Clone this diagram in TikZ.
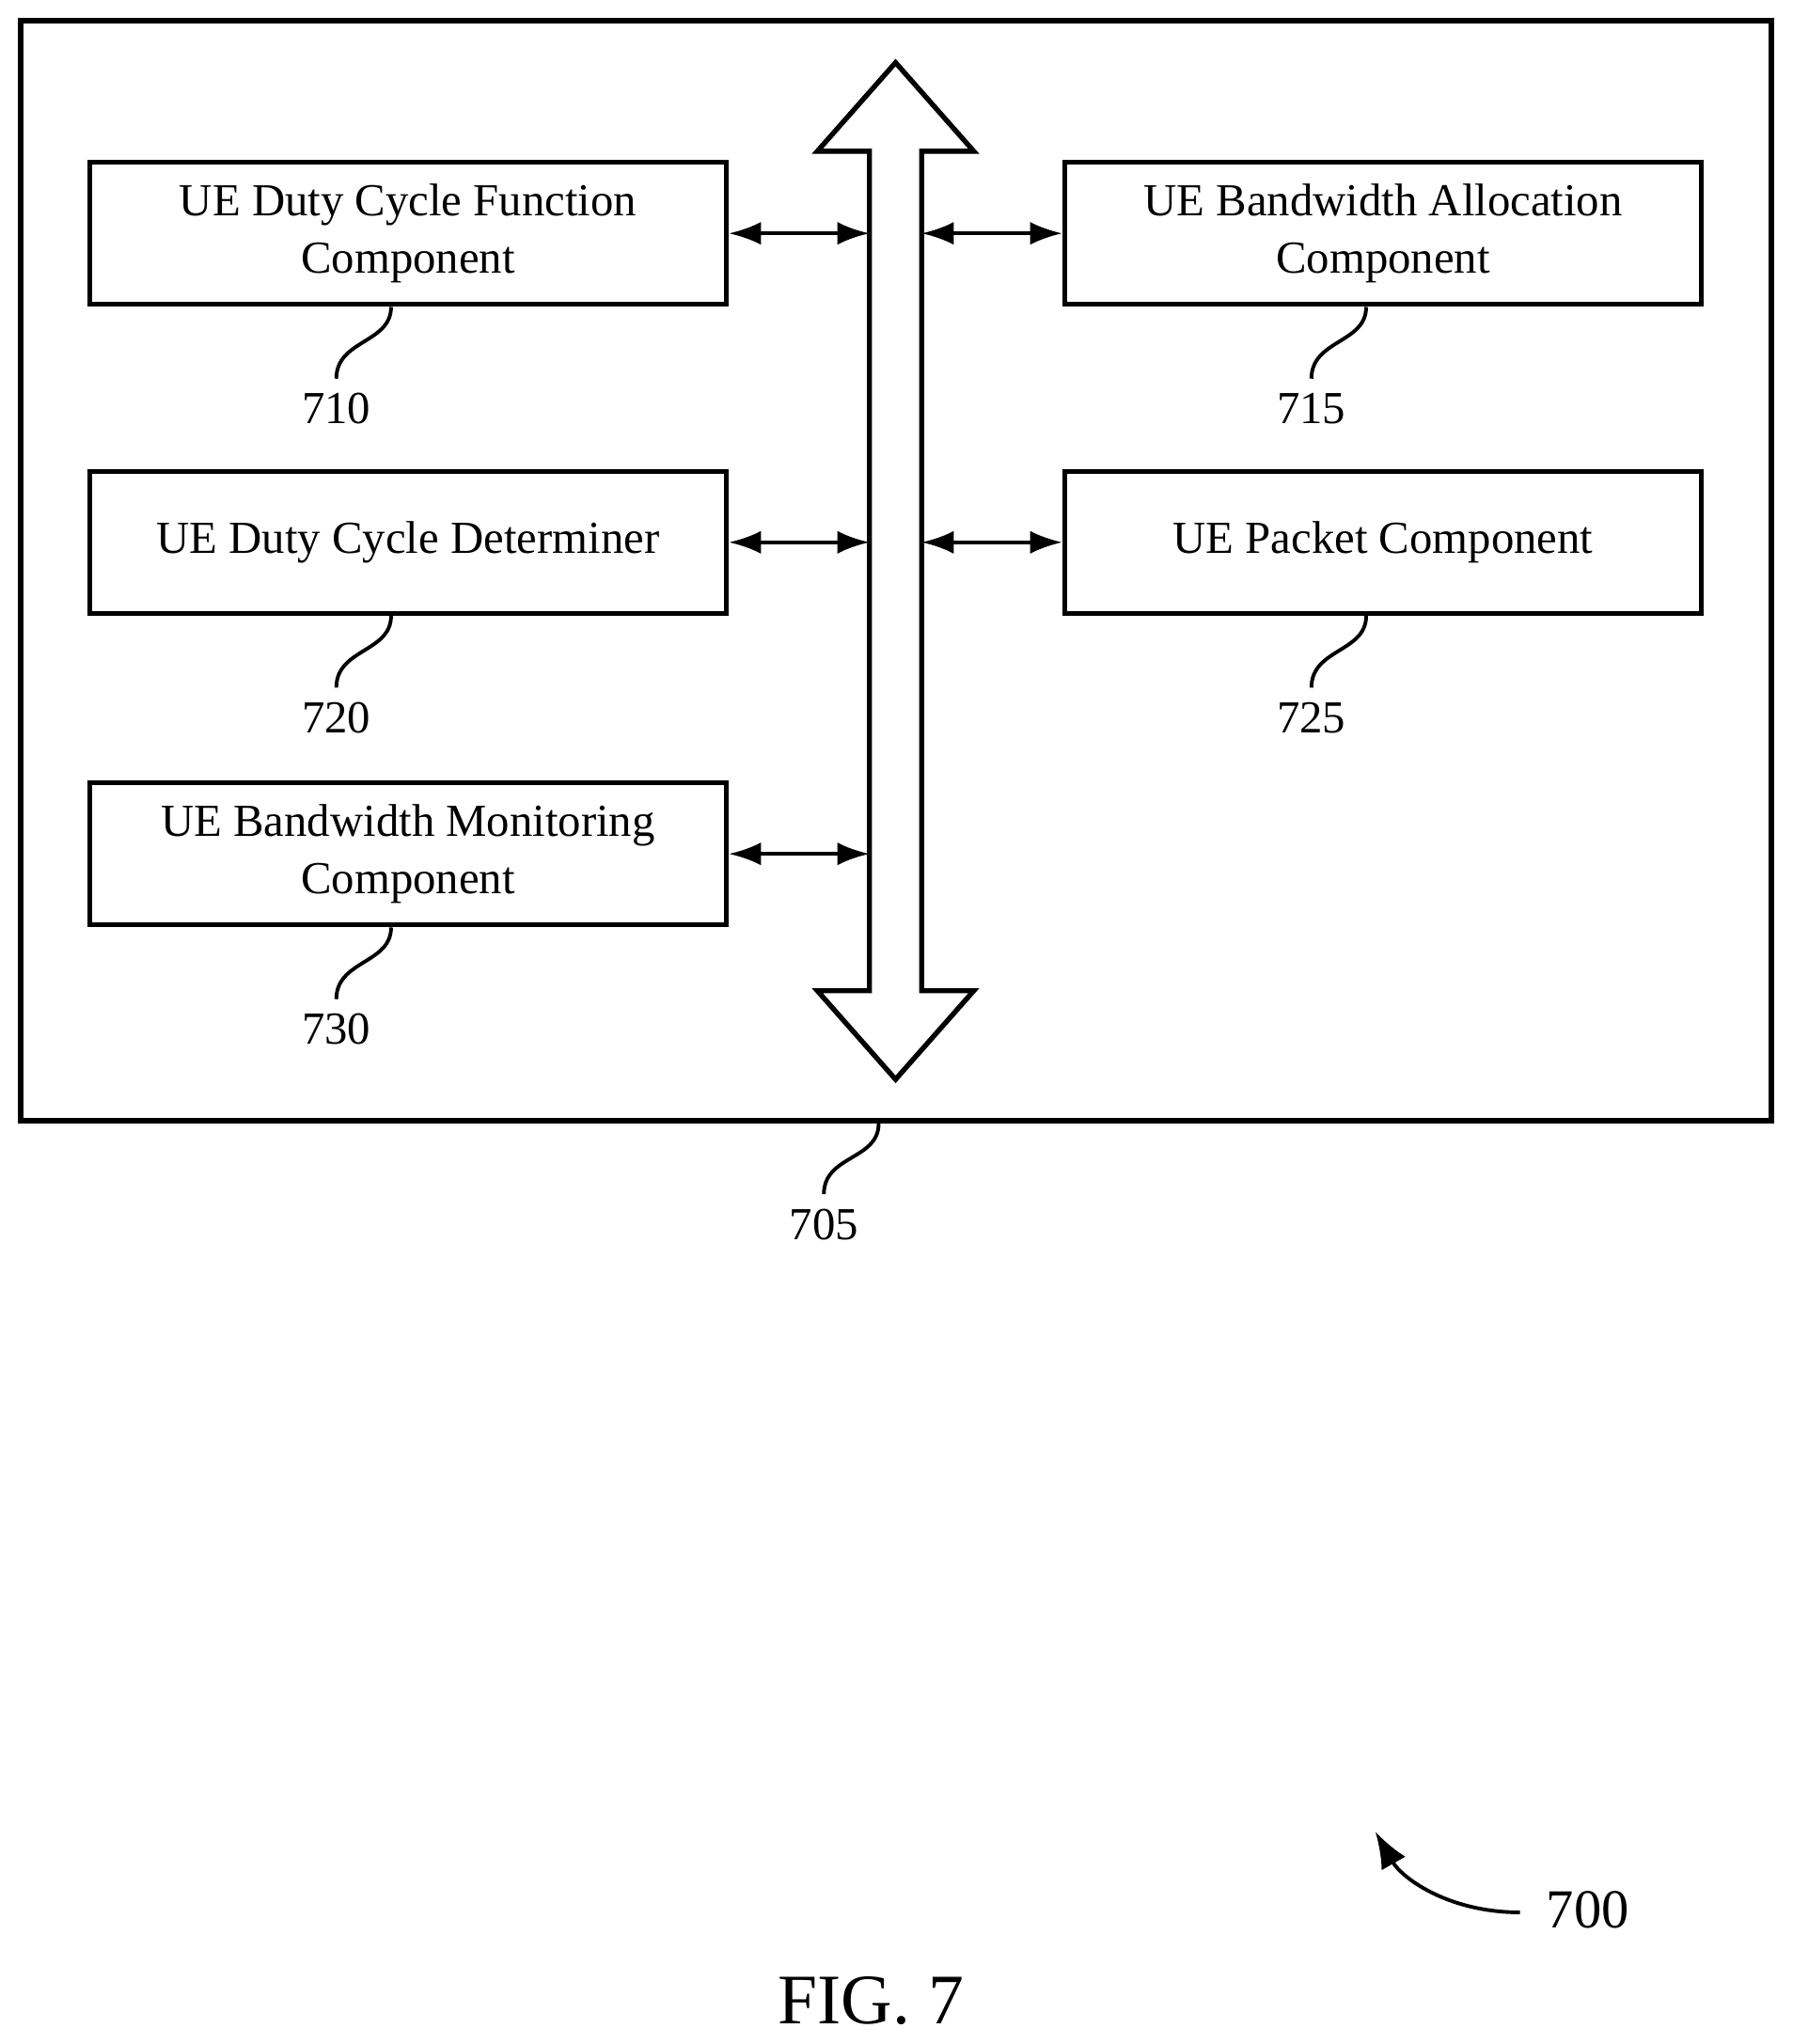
\documentclass[tikz,border=0pt]{standalone}
\usepackage{fontspec}
\setmainfont{Liberation Serif}
\usetikzlibrary{positioning, calc, arrows.meta}
\tikzset{
	comp/.style={draw, line width=1.1pt, rectangle, minimum width=4.88cm, minimum height=1.09cm, align=center, font=\fontsize{10}{12.5}\selectfont},
	link/.style={line width=0.8pt, {Latex[length=7pt,width=5pt]}-{Latex[length=7pt,width=5pt]}},
	lead/.style={line width=0.8pt},
	refnum/.style={inner sep=0pt, font=\fontsize{10}{12}\selectfont}
}
\begin{document}
\begin{tikzpicture}[x=0.01cm, y=-0.01cm]
		\useasboundingbox (0,0) rectangle (1375,1568);
		
		%Outer box and bus
		\draw[line width=1.2pt] (16,16) rectangle (1359,860);
		\coordinate (busL) at (667,0);
		\coordinate (busR) at (707,0);
		\draw[line width=1.1pt] (687,48) -- (747,116) -- (707,116) -- (707,760) -- (747,760) -- (687,828) 
		-- (627,760) -- (667,760) -- (667,116) -- (627,116) -- cycle;
		
		%Components on the left
		\node (dutyFunction) at (313,179) [comp]{UE Duty Cycle Function\\Component};
		\node (dutyDeterminer) at (313,416) [comp]{UE Duty Cycle Determiner};
		\node (bwMonitoring) at (313,655) [comp]{UE Bandwidth Monitoring\\Component};
		
		%Components on the right
		\node (bwAllocation) at (1061,179) [comp]{UE Bandwidth Allocation\\Component};
		\node (packetComp) at (1061,416) [comp]{UE Packet Component};
		
		%Links to the bus
		\draw[link] (dutyFunction.east) -- (busL |- dutyFunction.east);
		\draw[link] (dutyDeterminer.east) -- (busL |- dutyDeterminer.east);
		\draw[link] (bwMonitoring.east) -- (busL |- bwMonitoring.east);
		\draw[link] (busR |- bwAllocation.west) -- (bwAllocation.west);
		\draw[link] (busR |- packetComp.west) -- (packetComp.west);
		
		%Reference numerals
		\foreach \blk/\num in {dutyFunction/710, dutyDeterminer/720, bwMonitoring/730, bwAllocation/715, packetComp/725}{
			\draw[lead] ($(\blk.south)+(-13,0)$) .. controls +(0,28) and +(0,-30) .. ++(-42,55) coordinate (end\num);
			\node (ref\num) [refnum, below=3pt of end\num]{\num};
		}
		\draw[lead] (674,862) .. controls +(0,28) and +(0,-30) .. (632,916) coordinate (end705);
		\node (ref705) [refnum, below=3pt of end705]{705};
		
		%Figure numeral and title
		\node (ref700) at (1218,1465) [inner sep=0pt, font=\fontsize{12}{14}\selectfont]{700};
		\draw[line width=0.8pt, -{Latex[length=8pt,width=6pt]}] (1166,1467) .. controls (1110,1467) and (1075,1440) .. (1055,1405);
		\node (figTitle) at (668,1535) [inner sep=0pt, font=\fontsize{15.5}{18}\selectfont]{FIG. 7};
		
\end{tikzpicture}
\end{document}
